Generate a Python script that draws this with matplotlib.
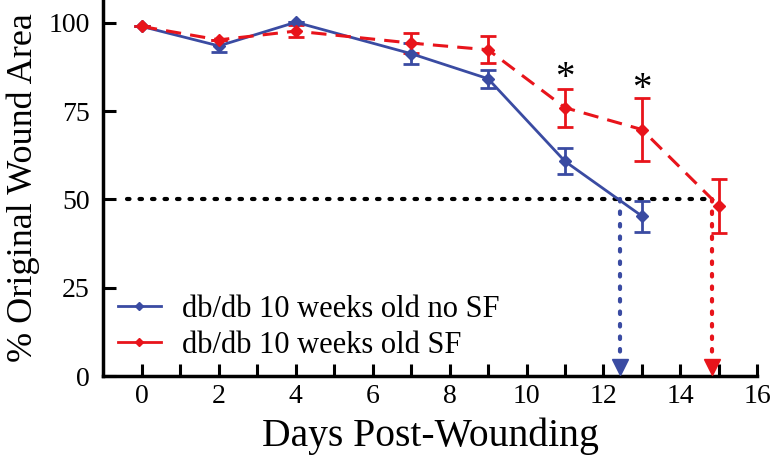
import matplotlib
matplotlib.use('Agg')
import matplotlib.pyplot as plt
from matplotlib.lines import Line2D

days_nosf = [0, 2, 4, 7, 9, 11, 13]
area_nosf = [99, 93.5, 100.2, 91.3, 84.2, 60.8, 45.3]
err_nosf = [0, 1.6, 0, 3.0, 2.6, 3.7, 4.4]

days_sf = [0, 2, 4, 7, 9, 11, 13, 15]
area_sf = [99, 95.2, 97.7, 94.3, 92.4, 76.0, 69.8, 48.2]
err_sf = [0, 0, 1.6, 2.8, 3.8, 5.4, 9.0, 7.6]

half_nosf = 12.43
half_sf = 14.82
star_days = [11, 13]
star_y = [79, 76]

blue = '#3a4ba2'
red = '#e8141b'

plt.rcParams['font.family'] = ['Liberation Serif', 'DejaVu Serif']

fig = plt.figure(figsize=(7.72, 4.58), dpi=100)
ax = fig.add_axes([0.134, 0.179, 0.847, 0.821])

dots = (0, (0.6, 2.4))
ax.plot([-0.4, half_sf], [50, 50], color='black', linestyle=dots,
        linewidth=3, dash_capstyle='round', zorder=1)
ax.plot([half_nosf, half_nosf], [50, 3], color=blue, linestyle=dots,
        linewidth=3, dash_capstyle='round', zorder=1)
ax.plot([half_sf, half_sf], [50, 3], color=red, linestyle=dots,
        linewidth=3, dash_capstyle='round', zorder=1)
ax.plot([half_nosf], [2.6], marker='v', color=blue, markersize=12, clip_on=False, zorder=4)
ax.plot([half_sf], [2.6], marker='v', color=red, markersize=12, clip_on=False, zorder=4)

ax.errorbar(days_nosf, area_nosf, yerr=err_nosf, color=blue, linewidth=2,
            marker='D', markersize=6, capsize=6, elinewidth=2, capthick=2,
            label='db/db 10 weeks old no SF', zorder=3)
ax.errorbar(days_sf, area_sf, yerr=err_sf, color=red, linewidth=2.2,
            linestyle=(0, (5, 3)), marker='D', markersize=6, capsize=6,
            elinewidth=2, capthick=2, label='db/db 10 weeks old SF', zorder=3)

for d, y in zip(star_days, star_y):
    ax.text(d, y, '*', ha='center', va='bottom', fontsize=28)

ax.set_xlim(-1, 16)
ax.set_ylim(0, 106.5)
ax.set_xticks(range(0, 17, 2))
ax.set_xticks(range(1, 16, 2), minor=True)
ax.set_yticks([0, 25, 50, 75, 100])
ax.tick_params(which='both', direction='in', length=9, width=2.2, labelsize=20, pad=6)
ax.tick_params(axis='y', pad=10)
for s in ['top', 'right']:
    ax.spines[s].set_visible(False)
for s in ['left', 'bottom']:
    ax.spines[s].set_linewidth(2.5)

ax.set_xlabel('Days Post-Wounding', fontsize=28.5, labelpad=6)
ax.set_ylabel('% Original Wound Area', fontsize=26, labelpad=6)

handles, labels = ax.get_legend_handles_labels()
h = [Line2D([], [], color=blue, marker='D', markersize=4.5, linewidth=2),
     Line2D([], [], color=red, marker='D', markersize=4.5, linewidth=2)]
ax.legend(h, labels, loc='lower left', bbox_to_anchor=(-0.02, -0.03), frameon=False,
          fontsize=22, handlelength=1.4, handletextpad=0.7, labelspacing=0.22)

fig.savefig('out.png', dpi=100)
